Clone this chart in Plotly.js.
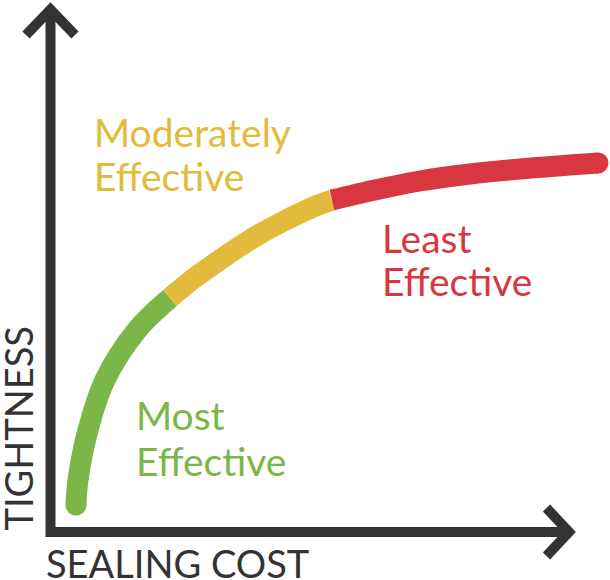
<!DOCTYPE html>
<html>
<head>
<meta charset="utf-8">
<script src="https://cdn.plot.ly/plotly-3.0.1.min.js"></script>
<style>
  html, body { margin: 0; padding: 0; background: #ffffff; }
  #chart { width: 610px; height: 580px; }
</style>
</head>
<body>
<div id="chart"></div>
<script>
// ---- Data (arbitrary units: sealing cost vs tightness) ----
const costGreen   = [5.1, 5.5, 7.5, 10.9, 17.3, 23.9];
const tightGreen  = [5.4, 10.4, 20.4, 30.4, 40.4, 46.8];
const costYellow  = [23.9, 28.5, 35.3, 40.5, 46.5, 53.3, 56.3];
const tightYellow = [46.8, 50.6, 55.4, 58.8, 62.1, 65.3, 66.4];
const costRed     = [56.3, 64.9, 73.9, 83.9, 93.9, 109.5];
const tightRed    = [66.4, 68.4, 70.2, 71.6, 72.6, 73.8];

const zoneLabels  = ["Most Effective", "Moderately Effective", "Least Effective"];
const axisLabels  = ["SEALING COST", "TIGHTNESS"];

// ---- Styles ----
const GREEN = "#7ab648", YELLOW = "#e3bb3c", RED = "#d8373f", INK = "#333333";
const CURVE_W = 21;
const AXIS_W = 10;
const LABEL_FONT = "Lato, 'Open Sans', sans-serif";

function seg(x, y, color) {
  return { x: x, y: y, type: "scatter", mode: "lines",
           line: { color: color, width: CURVE_W, shape: "spline", smoothing: 1 },
           hoverinfo: "skip", showlegend: false };
}
function cap(x, y, color) {
  return { x: [x], y: [y], type: "scatter", mode: "markers",
           marker: { color: color, size: CURVE_W, line: { width: 0 } },
           hoverinfo: "skip", showlegend: false };
}

const traces = [
  seg(costGreen, tightGreen, GREEN),
  seg(costYellow, tightYellow, YELLOW),
  seg(costRed, tightRed, RED),
  cap(costGreen[0], tightGreen[0], GREEN),
  cap(costRed[costRed.length - 1], tightRed[tightRed.length - 1], RED)
];

// axis frame (data coordinates: origin at 0,0)
const yTop = 104.5, xEnd = 103.7;
const shapes = [
  { type: "path", xref: "x", yref: "y",
    path: `M 0 ${yTop} L 0 0 L ${xEnd} 0`,
    line: { color: INK, width: AXIS_W } },
  { type: "path", xref: "x", yref: "y",
    path: `M -4.9 99.4 L 0 ${yTop} L 4.9 99.4`,
    line: { color: INK, width: AXIS_W } },
  { type: "path", xref: "x", yref: "y",
    path: `M ${xEnd - 4.5} 4.8 L ${xEnd} 0 L ${xEnd - 4.5} -4.8`,
    line: { color: INK, width: AXIS_W } }
];

function lbl(text, x, y, color, size, extra) {
  return Object.assign({ text: text, x: x, y: y, xref: "x", yref: "y",
    xanchor: "left", yanchor: "middle", showarrow: false,
    font: { family: LABEL_FONT, size: size, color: color } }, extra || {});
}
const [mostA, mostB] = zoneLabels[0].split(" ");
const [modA, modB] = zoneLabels[1].split(" ");
const [leastA, leastB] = zoneLabels[2].split(" ");

const annotations = [
  lbl(modA,   8.3, 80.0, YELLOW, 39),
  lbl(modB,   8.3, 71.2, YELLOW, 39),
  lbl(leastA, 65.9, 58.8, RED, 39),
  lbl(leastB, 65.9, 50.2, RED, 39),
  lbl(mostA,  16.6, 23.5, GREEN, 39),
  lbl(mostB,  16.6, 14.3, GREEN, 39),
  lbl(axisLabels[0], -1.4, -6.2, INK, 38),
  lbl(axisLabels[1], -6.6, 20.6, INK, 38, { xanchor: "center", textangle: -90 })
];

const layout = {
  width: 610, height: 580,
  margin: { l: 0, r: 0, t: 0, b: 0, pad: 0 },
  paper_bgcolor: "#ffffff", plot_bgcolor: "#ffffff",
  xaxis: { range: [-10.1, 111.9], visible: false, fixedrange: true },
  yaxis: { range: [-9.6, 106.4], visible: false, fixedrange: true },
  shapes: shapes,
  annotations: annotations,
  showlegend: false
};

Plotly.newPlot("chart", traces, layout, { staticPlot: true, displayModeBar: false });
</script>
</body>
</html>
